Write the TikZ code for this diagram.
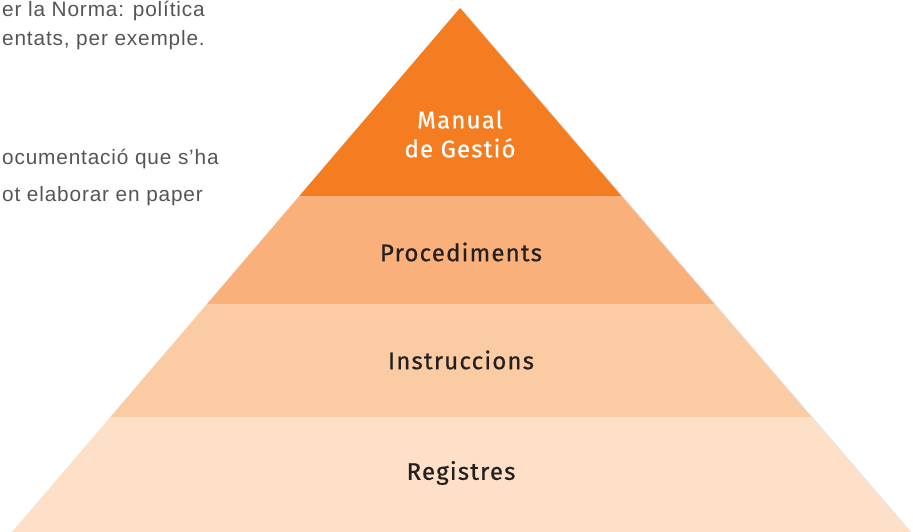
\documentclass[tikz,border=0pt]{standalone}
\usepackage{fontspec}
\setmainfont{Liberation Sans}
\newfontfamily\notefont[LetterSpace=4]{Liberation Sans}
\newfontfamily\tierfont[LetterSpace=5,FakeBold=0.6]{Fira Sans}
\usetikzlibrary{calc}

\definecolor{tierA}{HTML}{F47C21}
\definecolor{tierB}{HTML}{F9B07A}
\definecolor{tierC}{HTML}{FBCBA3}
\definecolor{tierD}{HTML}{FDE0C7}
\definecolor{tiertext}{HTML}{231F20}
\definecolor{notegray}{HTML}{555555}

\begin{document}
\begin{tikzpicture}
[x=1pt,y=1pt,
 tier/.style={font=\tierfont\fontsize{24}{29}\selectfont,text=tiertext,align=center},
 note/.style={anchor=base west,inner sep=0pt,text=notegray,font=\notefont\fontsize{20.8}{24}\selectfont}]
\useasboundingbox (0,0) rectangle (913,532);

% corners of the pyramid
\coordinate (apex) at (460,524);
\coordinate (bl) at (12,0);
\coordinate (br) at (910,0);

% layer boundaries
\coordinate (l1) at ($(apex)!0.359!(bl)$);
\coordinate (r1) at ($(apex)!0.359!(br)$);
\coordinate (l2) at ($(apex)!0.565!(bl)$);
\coordinate (r2) at ($(apex)!0.565!(br)$);
\coordinate (l3) at ($(apex)!0.781!(bl)$);
\coordinate (r3) at ($(apex)!0.781!(br)$);

\fill[black!12] ($(apex)+(2,-1)$) -- ($(br)+(2,-1)$) -- (br) -- (apex) -- cycle;
\fill[tierA] (apex) -- (r1) -- (l1) -- cycle;
\fill[tierB] (l1) -- (r1) -- (r2) -- (l2) -- cycle;
\fill[tierC] (l2) -- (r2) -- (r3) -- (l3) -- cycle;
\fill[tierD] (l3) -- (r3) -- (br) -- (bl) -- cycle;

\node[tier,text=white] (manual) at (460,398) {Manual\\de Gestió};
\node[tier] (proc) at (461,280) {Procediments};
\node[tier] (instr) at (461,172) {Instruccions};
\node[tier] (reg) at (461,59) {Registres};

% text beside the pyramid, cut at the left border
\begin{scope}
\clip (0,0) rectangle (913,532);
\node[note] (n1) at (2,515) {er la Norma: política};
\node[note] (n2) at (2,486) {entats, per exemple.};
\node[note] (n3) at (2,367) {ocumentació que s’ha};
\node[note] (n4) at (2,330) {ot elaborar en paper};
\end{scope}
\end{tikzpicture}
\end{document}
